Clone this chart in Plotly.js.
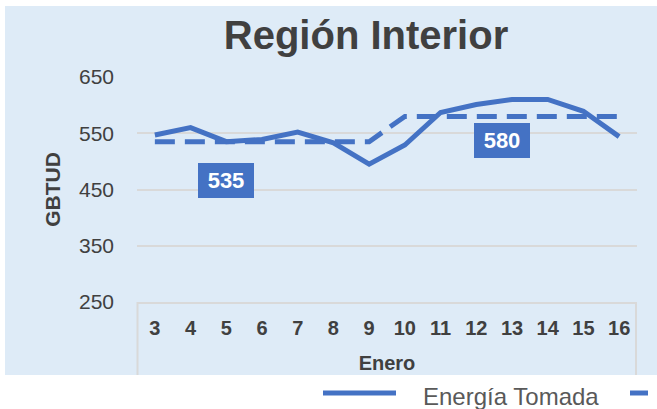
<!DOCTYPE html>
<html>
<head>
<meta charset="utf-8">
<script src="https://cdn.plot.ly/plotly-3.0.1.min.js"></script>
<style>html,body{margin:0;padding:0;background:#fff;}#chart{width:657px;height:409px;}</style>
</head>
<body>
<div id="chart"></div>
<script>
// Days of January (category labels)
const dias = ['3','4','5','6','7','8','9','10','11','12','13','14','15','16'];
// Energía Tomada (GBTUD)
const energiaTomada = [547, 560, 535, 539, 552, 533, 495, 529, 587, 601, 610, 610, 589, 544];
// Dashed reference series (period averages)
const promedio = [535, 535, 535, 535, 535, 535, 535, 580, 580, 580, 580, 580, 580, 580];
// Y tick values
const yTicks = [250, 350, 450, 550, 650];
// Data-label texts
const etiquetas = ['535', '580'];

const FONT = '"Liberation Sans", Arial, sans-serif';
const BLUE = '#4472C4';
const DARK = '#404040';
const GRID = '#D9D9D9';

// plot area geometry (pixels)
const L = 137, R = 637, T = 77, B = 302, W = 657, H = 409;
const px = x => (x - L) / (R - L);
const py = y => (B - y) / (B - T);

const traces = [
  {
    x: dias, y: energiaTomada, type: 'scatter', mode: 'lines',
    name: 'Energía Tomada',
    line: {color: BLUE, width: 5},
    hoverinfo: 'skip', showlegend: false
  },
  {
    x: dias, y: promedio, type: 'scatter', mode: 'lines',
    name: 'Promedio',
    line: {color: BLUE, width: 5, dash: '20px,10px'},
    hoverinfo: 'skip', showlegend: false
  }
];

const layout = {
  width: W, height: H,
  margin: {l: L, r: W - R, t: T, b: H - B, pad: 0},
  paper_bgcolor: '#FFFFFF',
  plot_bgcolor: 'rgba(0,0,0,0)',
  font: {family: FONT, color: DARK},
  showlegend: false,
  title: {
    text: 'Región Interior',
    font: {family: FONT, size: 40, color: DARK, weight: 'bold'},
    xref: 'container', x: 366 / W, xanchor: 'center',
    yref: 'container', y: 1 - 35 / H, yanchor: 'middle'
  },
  xaxis: {
    type: 'category',
    range: [-0.5, 13.5],
    showgrid: false, zeroline: false,
    showline: true, linecolor: GRID, linewidth: 2,
    ticks: '', ticklabelstandoff: 7,
    tickfont: {family: FONT, size: 20, color: DARK, weight: 'bold'},
    title: {text: 'Enero', font: {family: FONT, size: 20, color: DARK, weight: 'bold'}, standoff: 18},
    fixedrange: true, automargin: false
  },
  yaxis: {
    range: [250, 650],
    tickmode: 'array', tickvals: yTicks, ticktext: yTicks.map(String),
    showgrid: true, gridcolor: GRID, gridwidth: 2,
    zeroline: false, showline: false,
    ticks: '', ticklabelstandoff: 22,
    tickfont: {family: FONT, size: 21, color: DARK},
    title: {text: 'GBTUD', font: {family: FONT, size: 21, color: DARK, weight: 'bold'}, standoff: 12},
    fixedrange: true, automargin: false
  },
  shapes: [
    // chart area background
    {type: 'rect', xref: 'paper', yref: 'paper', layer: 'below',
     x0: px(5), x1: px(657), y0: py(375), y1: py(6),
     fillcolor: '#DEEBF7', line: {width: 0}},
    // category axis box sides
    {type: 'line', xref: 'paper', yref: 'paper', layer: 'below',
     x0: px(137.5), x1: px(137.5), y0: 0, y1: py(375), line: {color: GRID, width: 2}},
    {type: 'line', xref: 'paper', yref: 'paper', layer: 'below',
     x0: px(636), x1: px(636), y0: 0, y1: py(375), line: {color: GRID, width: 2}},
    // legend samples
    {type: 'line', xref: 'paper', yref: 'paper',
     x0: px(323), x1: px(396), y0: py(393), y1: py(393), line: {color: BLUE, width: 5}},
    {type: 'line', xref: 'paper', yref: 'paper',
     x0: px(630), x1: px(648), y0: py(393), y1: py(393), line: {color: BLUE, width: 5}}
  ],
  annotations: [
    {x: 2, y: 466, xref: 'x', yref: 'y', text: etiquetas[0], showarrow: false,
     font: {family: FONT, size: 22, color: '#FFFFFF', weight: 'bold'},
     bgcolor: BLUE, borderwidth: 0, borderpad: 0, width: 56, height: 35},
    {x: 9.706, y: 537, xref: 'x', yref: 'y', text: etiquetas[1], showarrow: false,
     font: {family: FONT, size: 22, color: '#FFFFFF', weight: 'bold'},
     bgcolor: BLUE, borderwidth: 0, borderpad: 0, width: 56, height: 35},
    {x: px(421), y: py(396), xref: 'paper', yref: 'paper', xanchor: 'left', yanchor: 'middle',
     text: 'Energía Tomada', showarrow: false,
     font: {family: FONT, size: 24, color: '#595959'}}
  ]
};

Plotly.newPlot('chart', traces, layout, {staticPlot: true, displayModeBar: false});
</script>
</body>
</html>
